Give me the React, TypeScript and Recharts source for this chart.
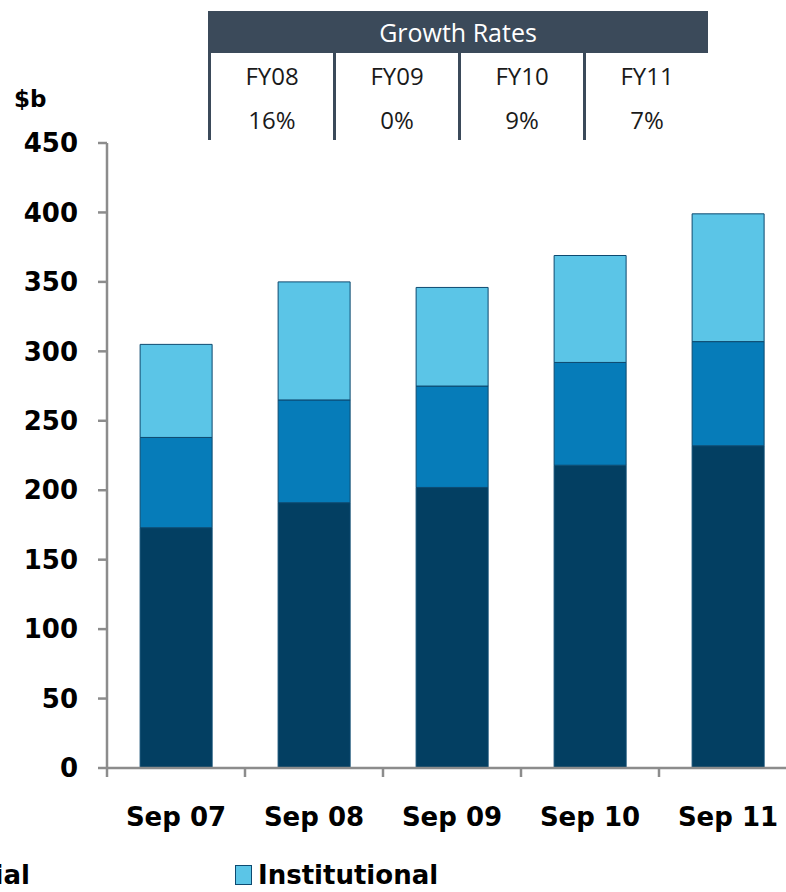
import React from "react"
import { BarChart, Bar, XAxis, YAxis } from "recharts"

const SANS = "'DejaVu Sans', Verdana, sans-serif"
const LIGHT = "'Open Sans', 'Noto Sans', sans-serif"

// $b
const periods = ["Sep 07", "Sep 08", "Sep 09", "Sep 10", "Sep 11"]
const retail = [173, 191, 202, 218, 232]
const commercial = [65, 74, 73, 74, 75]
const institutional = [67, 85, 71, 77, 92]
const yTicks = [0, 50, 100, 150, 200, 250, 300, 350, 400, 450]

const growthYears = ["FY08", "FY09", "FY10", "FY11"]
const growthRates = ["16%", "0%", "9%", "7%"]

const color = {
  dark: "#033f62",
  mid: "#067cb9",
  light: "#5bc5e7",
  edge: "#0d4a70",
  axis: "#8c8c8c",
  slate: "#3b4a5a",
}

const data = periods.map((p, i) => ({
  name: p,
  retail: retail[i],
  commercial: commercial[i],
  institutional: institutional[i],
}))

function XTick(props: any) {
  const { x, y, payload } = props
  const off = payload && payload.offset != null ? payload.offset : 69
  return (
    <g>
      <line x1={x - off} y1={y} x2={x - off} y2={y + 9} stroke={color.axis} strokeWidth={2.5} />
      <text x={x} y={y + 58} textAnchor="middle" fontFamily={SANS} fontWeight="bold" fontSize={26} fill="#000">
        {payload.value}
      </text>
    </g>
  )
}

export default function App() {
  return (
    <div style={{ position: "relative", width: 786, height: 892, overflow: "hidden", background: "#fff" }}>
      <style>{`body{margin:0}`}</style>

      <BarChart
        width={800}
        height={892}
        data={data}
        margin={{ top: 143, right: 3, bottom: 64, left: 0 }}
        barCategoryGap="24%"
      >
        <YAxis
          domain={[0, 450]}
          ticks={yTicks}
          interval={0}
          width={107}
          axisLine={{ stroke: color.axis, strokeWidth: 2.5 }}
          tickLine={{ stroke: color.axis, strokeWidth: 2.5 }}
          tickSize={9}
          tickMargin={20}
          tick={{ fontFamily: SANS, fontWeight: "bold", fontSize: 26, fill: "#000" }}
        />
        <XAxis
          dataKey="name"
          height={60}
          interval={0}
          axisLine={{ stroke: color.axis, strokeWidth: 2.5 }}
          tickLine={false}
          tickSize={0}
          tickMargin={0}
          tick={<XTick />}
        />
        <Bar dataKey="retail" stackId="a" fill={color.dark} stroke={color.edge} strokeWidth={1} isAnimationActive={false} />
        <Bar dataKey="commercial" stackId="a" fill={color.mid} stroke={color.edge} strokeWidth={1} isAnimationActive={false} />
        <Bar dataKey="institutional" stackId="a" fill={color.light} stroke={color.edge} strokeWidth={1} isAnimationActive={false} />
      </BarChart>

      {/* growth table */}
      <div style={{ position: "absolute", left: 208, top: 11, width: 500, height: 42, background: color.slate, color: "#fff", fontFamily: LIGHT, fontSize: 25, display: "flex", alignItems: "center", justifyContent: "center" }}>
        Growth Rates
      </div>
      {growthYears.map((fy, i) => (
        <div key={fy} style={{ position: "absolute", left: 208 + i * 125, top: 53, width: 125, height: 87, borderLeft: `3px solid ${color.slate}`, boxSizing: "border-box", fontFamily: LIGHT, fontSize: 24, color: "#1a1a1a", textAlign: "center" }}>
          <div style={{ position: "absolute", left: 0, right: 0, top: 6 }}>{fy}</div>
          <div style={{ position: "absolute", left: 0, right: 0, top: 50 }}>{growthRates[i]}</div>
        </div>
      ))}

      <div style={{ position: "absolute", left: 14, top: 86, fontFamily: SANS, fontWeight: "bold", fontSize: 23, color: "#000" }}>$b</div>

      {/* legend, clipped at the left edge like the source */}
      <div style={{ position: "absolute", right: 756, top: 860, display: "flex", alignItems: "center", gap: 6, whiteSpace: "nowrap", fontFamily: SANS, fontWeight: "bold", fontSize: 26 }}>
        <span style={{ width: 15, height: 18, background: color.mid, border: `1.5px solid ${color.edge}` }} />
        <span>Commercial</span>
      </div>
      <div style={{ position: "absolute", left: 235, top: 860, display: "flex", alignItems: "center", gap: 6, whiteSpace: "nowrap", fontFamily: SANS, fontWeight: "bold", fontSize: 26 }}>
        <span style={{ width: 15, height: 18, background: color.light, border: `1.5px solid ${color.edge}` }} />
        <span>Institutional</span>
      </div>
    </div>
  )
}
